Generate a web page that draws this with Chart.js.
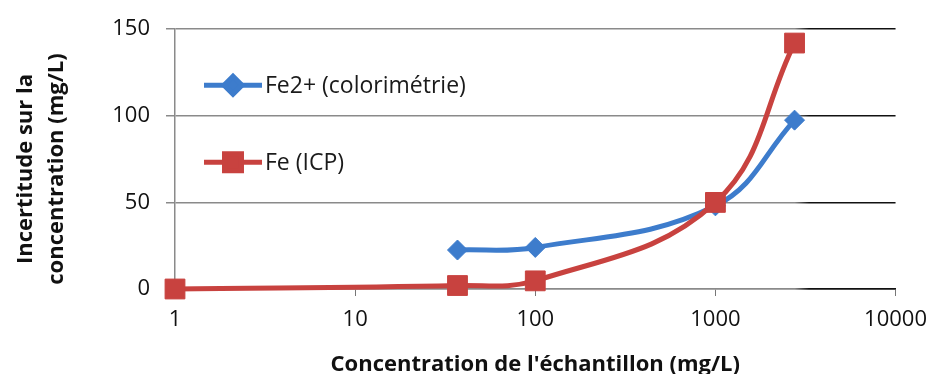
<!DOCTYPE html>
<html>
<head>
<meta charset="utf-8">
<script src="https://cdn.jsdelivr.net/npm/chart.js@4"></script>
<style>
  html, body { margin: 0; background: #fff; }
  #wrap { width: 938px; height: 374px; }
</style>
</head>
<body>
<div id="wrap"><canvas id="c"></canvas></div>
<script>
// Incertitude vs concentration (axe x logarithmique)
const xTicks = [1, 10, 100, 1000, 10000];
const yTicks = [0, 50, 100, 150];

const colorX = [37, 100, 1000, 2750];
const colorY = [22.5, 24, 48, 97.5];
const icpX = [1, 37, 100, 1000, 2750];
const icpY = [0, 2, 4.7, 50, 142];

const LABELS = ["Fe2+ (colorimétrie)", "Fe (ICP)"];
const X_TITLE = "Concentration de l'échantillon (mg/L)";
const Y_TITLE = ["Incertitude sur la", "concentration (mg/L)"];
const BLUE = "#3d7ccc", RED = "#c8423f";
const FONT = "'Open Sans'";

const pts = (xs, ys) => xs.map((x, i) => ({ x, y: ys[i] }));

// gris à gauche, noir vers la droite
function gridColor(ctx) {
  const a = ctx.chart.chartArea;
  if (!a) return "#888";
  const g = ctx.chart.ctx.createLinearGradient(a.left, 0, a.right, 0);
  g.addColorStop(0, "#8a8a8a");
  g.addColorStop(0.86, "#8a8a8a");
  g.addColorStop(0.88, "#111");
  g.addColorStop(1, "#111");
  return g;
}

// légende dessinée dans la zone du graphique
const inLegend = {
  id: "inLegend",
  afterDatasetsDraw(chart, args, o) {
    const ctx = chart.ctx, a = chart.chartArea;
    chart.data.datasets.forEach((ds, i) => {
      const y = a.top + o.rows[i];
      const x0 = a.left + o.x;
      ctx.save();
      ctx.strokeStyle = ds.borderColor;
      ctx.lineWidth = ds.borderWidth;
      ctx.beginPath();
      ctx.moveTo(x0, y);
      ctx.lineTo(x0 + o.len, y);
      ctx.stroke();
      ctx.fillStyle = ds.backgroundColor;
      Chart.helpers.drawPoint(ctx, { pointStyle: ds.pointStyle, radius: o.radius[i], borderWidth: 1 }, x0 + o.len / 2, y);
      ctx.fillStyle = "#1a1a1a";
      ctx.font = o.font;
      ctx.textBaseline = "middle";
      ctx.fillText(ds.label, x0 + o.len + 3, y + 1);
      ctx.restore();
    });
  }
};

// titre vertical sur deux lignes
const yTitle = {
  id: "yTitle",
  afterDraw(chart, args, o) {
    const ctx = chart.ctx;
    ctx.save();
    ctx.translate(o.x, o.y);
    ctx.rotate(-Math.PI / 2);
    ctx.font = o.font;
    ctx.fillStyle = "#111";
    ctx.textAlign = "center";
    ctx.textBaseline = "alphabetic";
    o.text.forEach((t, i) => ctx.fillText(t, 0, i * o.lineGap));
    ctx.restore();
  }
};

new Chart(document.getElementById("c"), {
  type: "line",
  data: {
    datasets: [
      {
        label: LABELS[0], data: pts(colorX, colorY),
        borderColor: BLUE, backgroundColor: BLUE, borderWidth: 5,
        pointStyle: "rectRot", pointRadius: 10, pointBorderWidth: 1,
        tension: 0.4, order: 1, clip: false
      },
      {
        label: LABELS[1], data: pts(icpX, icpY),
        borderColor: RED, backgroundColor: RED, borderWidth: 5,
        pointStyle: "rect", pointRadius: 14, pointBorderWidth: 1,
        tension: 0.4, order: 0, clip: false
      }
    ]
  },
  options: {
    responsive: true, maintainAspectRatio: false, animation: false,
    layout: { padding: { top: 24, right: 36, left: 0, bottom: 0 } },
    plugins: {
      legend: { display: false },
      tooltip: { enabled: false },
      inLegend: { x: 29, len: 58, rows: [56, 133], radius: [9, 12], font: `23px ${FONT}` },
      yTitle: { text: Y_TITLE, x: 32, y: 169, lineGap: 31, font: `bold 22px ${FONT}` }
    },
    scales: {
      x: {
        type: "logarithmic", min: 1, max: 10000,
        afterBuildTicks: s => { s.ticks = xTicks.map(v => ({ value: v })); },
        afterFit: s => { s.height = 85; },
        ticks: {
          callback: v => String(v), autoSkip: false, maxRotation: 0,
          color: "#111", padding: 11, font: { family: FONT, size: 22 }
        },
        grid: { drawOnChartArea: false, drawTicks: true, tickLength: 7, color: "#777" },
        border: { color: gridColor, width: 1.5 },
        title: {
          display: true, text: X_TITLE,
          color: "#111", font: { family: FONT, size: 22, weight: "bold", lineHeight: 0.8 },
          padding: { top: 0, bottom: 0 }
        }
      },
      y: {
        min: 0, max: 150,
        afterBuildTicks: s => { s.ticks = yTicks.map(v => ({ value: v })); },
        afterFit: s => { s.width = 175; },
        ticks: { color: "#111", padding: 16, font: { family: FONT, size: 22 } },
        grid: { color: gridColor, lineWidth: 1.5, tickLength: 9 },
        border: { color: "#8a8a8a", width: 1.5 }
      }
    }
  },
  plugins: [inLegend, yTitle]
});
</script>
</body>
</html>
